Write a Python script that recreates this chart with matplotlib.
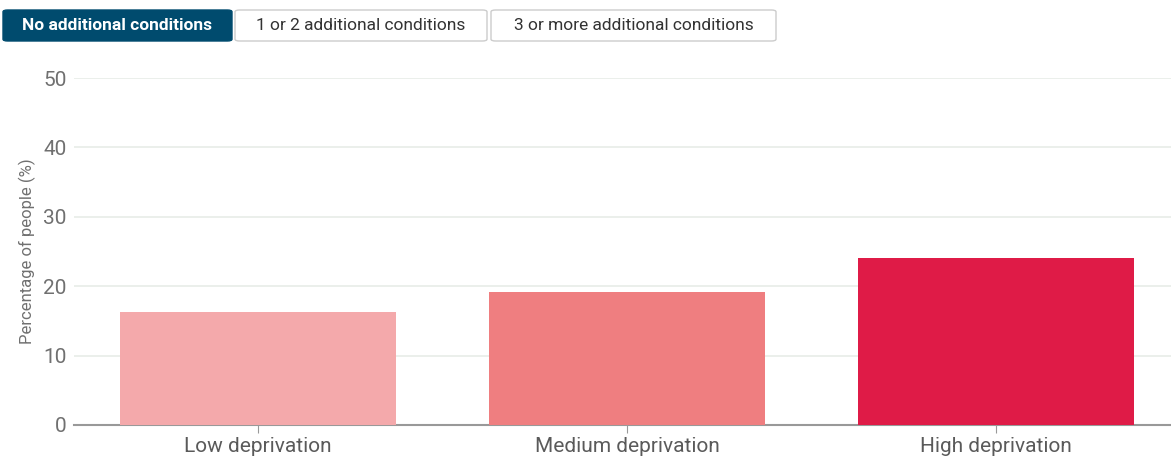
import matplotlib.pyplot as plt
from matplotlib.patches import FancyBboxPatch

plt.rcParams['font.family'] = ['Roboto', 'DejaVu Sans']

# Data
categories = ['Low deprivation', 'Medium deprivation', 'High deprivation']
values = [16.3, 19.2, 24.1]
colors = ['#f4a9ab', '#ef7e80', '#df1b47']
buttons = ['No additional conditions', '1 or 2 additional conditions', '3 or more additional conditions']
yticks = [0, 10, 20, 30, 40, 50]

W, H = 1171, 457
fig = plt.figure(figsize=(W / 100, H / 100), dpi=100)

# Chart area
ax = fig.add_axes([73.5 / W, 32 / H, 1107 / W, 347 / H])
x = list(range(len(categories)))
ax.bar(x, values, width=0.75, color=colors, zorder=3)
ax.set_xlim(-0.5, 2.5)
ax.set_ylim(0, 50)
ax.set_yticks(yticks)
ax.set_xticks(x)
ax.set_xticklabels(categories)
ax.grid(axis='y', color='#e8ece8', linewidth=1.2, zorder=0)
for s in ['top', 'right', 'left']:
    ax.spines[s].set_visible(False)
ax.spines['bottom'].set_color('#999999')
ax.spines['bottom'].set_linewidth(1.5)
ax.tick_params(axis='y', length=0, labelsize=15, labelcolor='#707070', pad=5)
ax.tick_params(axis='x', length=6, color='#999999', labelsize=15, labelcolor='#5a5a5a', pad=3)
ax.set_ylabel('Percentage of people (%)', fontsize=12, color='#707070')
ax.yaxis.set_label_coords(-37 / 1107, 0.5)

# Button bar at the top
btn_boxes = [(3, 232), (235, 487), (491, 776)]
for i, (label, (x0, x1)) in enumerate(zip(buttons, btn_boxes)):
    active = i == 0
    y0, y1 = 10, 41
    patch = FancyBboxPatch((x0 / W, 1 - y1 / H), (x1 - x0) / W, (y1 - y0) / H,
                           boxstyle='round,pad=0,rounding_size=0.004',
                           transform=fig.transFigure,
                           facecolor='#004b6e' if active else 'white',
                           edgecolor='#004b6e' if active else '#cccccc',
                           linewidth=1)
    fig.patches.append(patch)
    fig.text((x0 + x1) / 2 / W, 1 - (y0 + y1) / 2 / H, label,
             ha='center', va='center', fontsize=12.5,
             color='white' if active else '#333333',
             fontweight='bold' if active else 'normal')

fig.savefig('out.png', dpi=100)
